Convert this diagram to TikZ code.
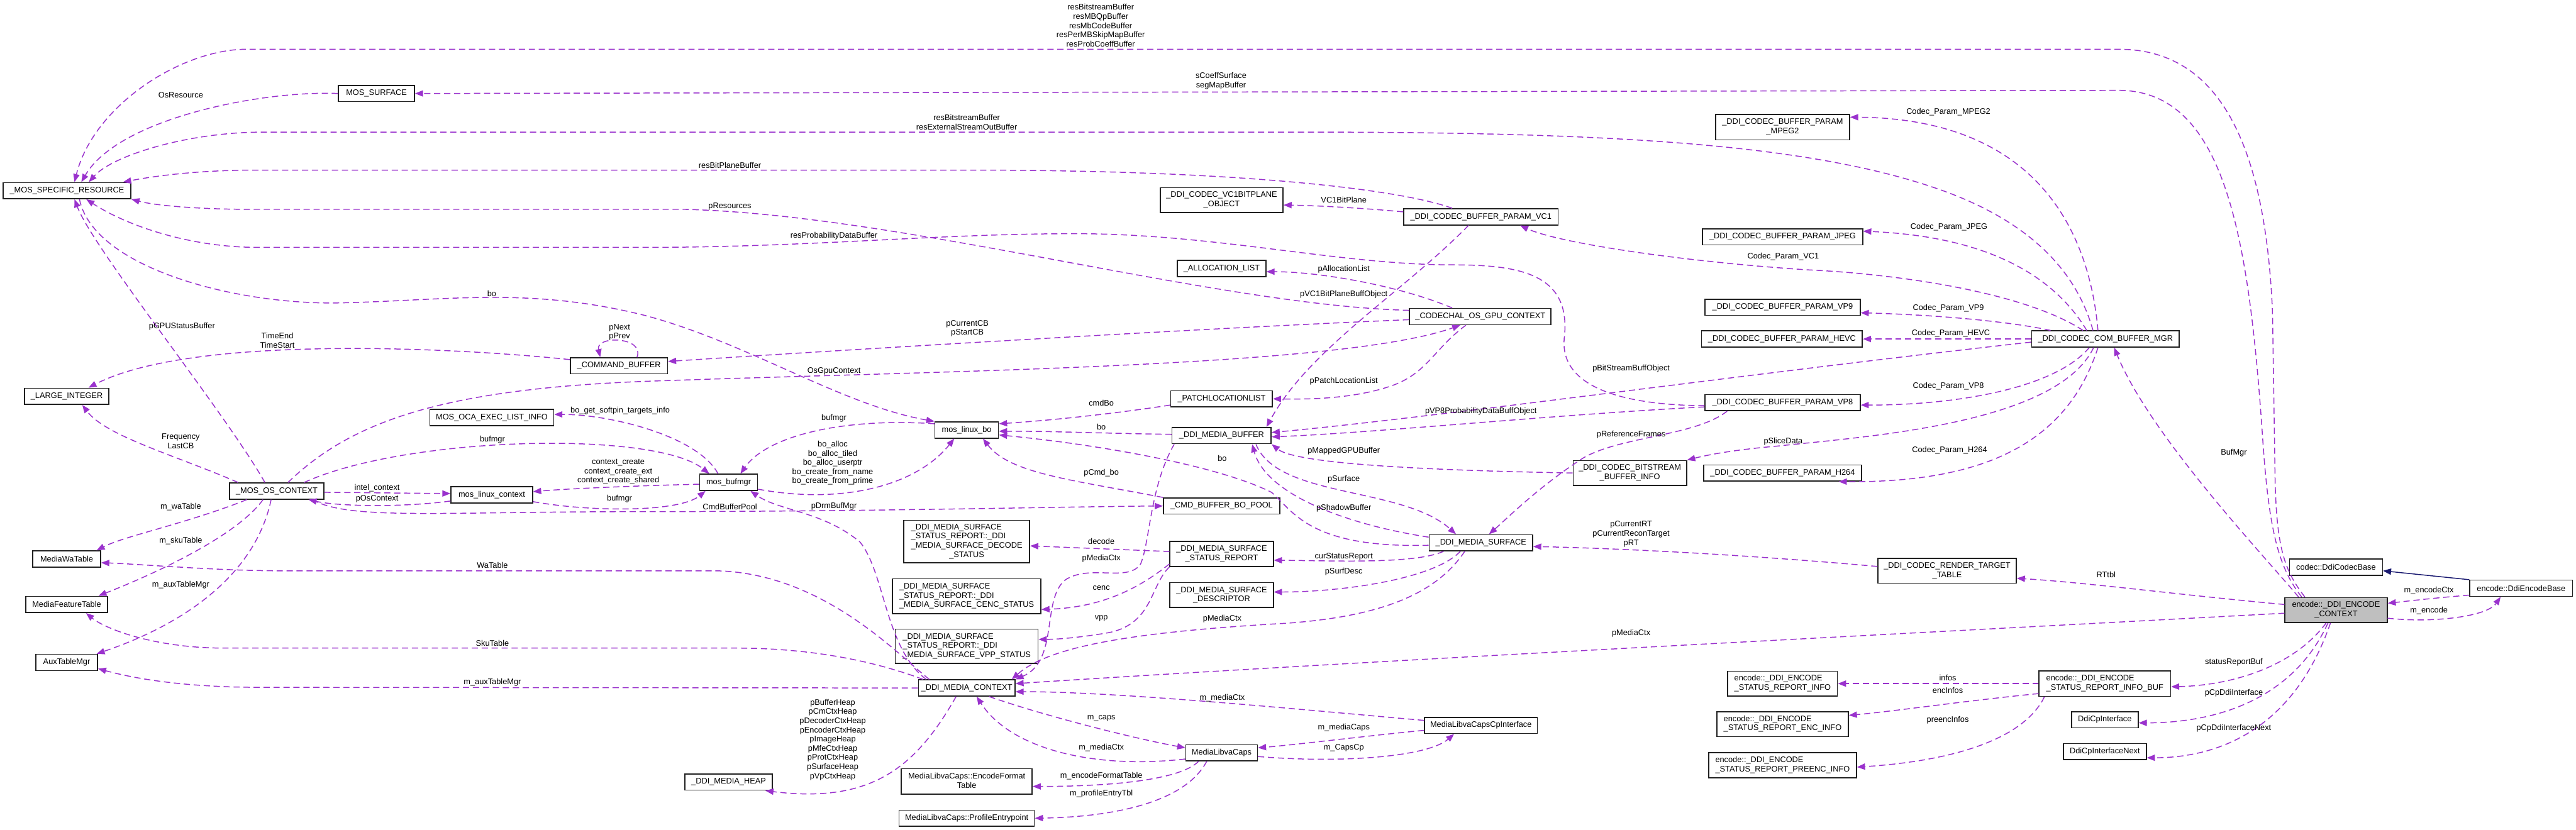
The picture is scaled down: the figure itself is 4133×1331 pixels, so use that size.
\documentclass[tikz,border=0pt]{standalone}
\usepackage{fontspec}
\setmainfont{Liberation Sans}
\usetikzlibrary{arrows.meta}
\definecolor{edgec}{HTML}{9A32CD}
\definecolor{inhc}{HTML}{191970}
\definecolor{boxfill}{HTML}{BFBFBF}
\definecolor{boxline}{HTML}{202020}
\newcommand{\LL}[2]{\begin{tabular}{@{}l@{}}#1\\\multicolumn{1}{@{}c@{}}{#2}\end{tabular}}
\newcommand{\LLL}[3]{\begin{tabular}{@{}l@{}}#1\\#2\\\multicolumn{1}{@{}c@{}}{#3}\end{tabular}}
\newcommand{\LLLL}[4]{\begin{tabular}{@{}l@{}}#1\\#2\\#3\\\multicolumn{1}{@{}c@{}}{#4}\end{tabular}}
\tikzset{
  every node/.style={font=\fontsize{12.9}{14.75}\selectfont},
  box/.style={draw=boxline, line width=1.6pt, fill=white, inner sep=0pt, minimum height=26pt},
  lbl/.style={inner sep=0pt, align=center},
  dep/.style={draw=edgec, line width=1.5pt, dash pattern=on 10pt off 6pt, -{Triangle[length=13pt,width=10pt]}},
  inh/.style={draw=inhc, line width=1.5pt, -{Triangle[length=13pt,width=10pt]}}
}
\begin{document}
\begin{tikzpicture}[x=1pt,y=-1pt]
\fill[white] (0,0) rectangle (4133,1331);
\useasboundingbox (0,0) rectangle (4133,1331);

% ---------- nodes ----------
\node[box, minimum width=205pt] (msr) at (107.5,306) {\_MOS\_SPECIFIC\_RESOURCE};
\node[box, minimum width=122pt] (mossurf) at (604,150) {MOS\_SURFACE};
\node[box, minimum width=197pt, minimum height=40pt] (vc1bp) at (1960,321) {\LL{\_DDI\_CODEC\_VC1BITPLANE}{\_OBJECT}};
\node[box, minimum width=142pt] (alloc) at (1960,431) {\_ALLOCATION\_LIST};
\node[box, minimum width=215pt, minimum height=41pt] (mpeg2) at (2860,204) {\LL{\_DDI\_CODEC\_BUFFER\_PARAM}{\_MPEG2}};
\node[box, minimum width=248pt] (vc1) at (2376,348) {\_DDI\_CODEC\_BUFFER\_PARAM\_VC1};
\node[box, minimum width=257pt] (jpeg) at (2860,380) {\_DDI\_CODEC\_BUFFER\_PARAM\_JPEG};
\node[box, minimum width=135pt] (largeint) at (107,636) {\_LARGE\_INTEGER};
\node[box, minimum width=156pt] (cmdbuf) at (993,587) {\_COMMAND\_BUFFER};
\node[box, minimum width=199pt] (oca) at (789,670) {MOS\_OCA\_EXEC\_LIST\_INFO};
\node[box, minimum width=151pt] (osctx) at (444,788) {\_MOS\_OS\_CONTEXT};
\node[box, minimum width=131pt] (linuxctx) at (789,794) {mos\_linux\_context};
\node[box, minimum width=93pt] (bufmgr) at (1169,774) {mos\_bufmgr};
\node[box, minimum width=102pt] (linuxbo) at (1551,690) {mos\_linux\_bo};
\node[box, minimum width=163pt] (patch) at (1960,640) {\_PATCHLOCATIONLIST};
\node[box, minimum width=159pt] (mbuf) at (1960,699) {\_DDI\_MEDIA\_BUFFER};
\node[box, minimum width=187pt] (cmdpool) at (1960,812) {\_CMD\_BUFFER\_BO\_POOL};
\node[box, minimum width=202pt, minimum height=68pt] (decst) at (1551,869) {\LLLL{\_DDI\_MEDIA\_SURFACE}{\_STATUS\_REPORT::\_DDI}{\_MEDIA\_SURFACE\_DECODE}{\_STATUS}};
\node[box, minimum width=166pt, minimum height=40pt] (streport) at (1960,889) {\LL{\_DDI\_MEDIA\_SURFACE}{\_STATUS\_REPORT}};
\node[box, minimum width=227pt] (gpuctx) at (2375,508) {\_CODECHAL\_OS\_GPU\_CONTEXT};
\node[box, minimum width=249pt] (vp9) at (2860,493) {\_DDI\_CODEC\_BUFFER\_PARAM\_VP9};
\node[box, minimum width=258pt] (hevc) at (2859,544) {\_DDI\_CODEC\_BUFFER\_PARAM\_HEVC};
\node[box, minimum width=249pt] (vp8) at (2860,646) {\_DDI\_CODEC\_BUFFER\_PARAM\_VP8};
\node[box, minimum width=182pt, minimum height=40pt] (bsinfo) at (2615,759) {\LL{\_DDI\_CODEC\_BITSTREAM}{\_BUFFER\_INFO}};
\node[box, minimum width=253pt] (h264) at (2860,759) {\_DDI\_CODEC\_BUFFER\_PARAM\_H264};
\node[box, minimum width=166pt] (msurf) at (2376,871) {\_DDI\_MEDIA\_SURFACE};
\node[box, minimum width=237pt] (combuf) at (3378,544) {\_DDI\_CODEC\_COM\_BUFFER\_MGR};
\node[box, minimum width=109pt] (mwa) at (107,897) {MediaWaTable};
\node[box, minimum width=131pt] (mft) at (107,970) {MediaFeatureTable};
\node[box, minimum width=99pt] (aux) at (107,1063) {AuxTableMgr};
\node[box, minimum width=238pt, minimum height=56pt] (cencst) at (1551,957) {\LLL{\_DDI\_MEDIA\_SURFACE}{\_STATUS\_REPORT::\_DDI}{\_MEDIA\_SURFACE\_CENC\_STATUS}};
\node[box, minimum width=166pt, minimum height=40pt] (desc) at (1960,955) {\LL{\_DDI\_MEDIA\_SURFACE}{\_DESCRIPTOR}};
\node[box, minimum width=229pt, minimum height=55pt] (vppst) at (1551,1037) {\LLL{\_DDI\_MEDIA\_SURFACE}{\_STATUS\_REPORT::\_DDI}{\_MEDIA\_SURFACE\_VPP\_STATUS}};
\node[box, minimum width=155pt] (mctx) at (1551,1104) {\_DDI\_MEDIA\_CONTEXT};
\node[box, minimum width=115pt] (caps) at (1960,1208) {MediaLibvaCaps};
\node[box, minimum width=140pt] (heap) at (1169,1255) {\_DDI\_MEDIA\_HEAP};
\node[box, minimum width=210pt, minimum height=41pt] (encfmt) at (1551,1254) {\LL{MediaLibvaCaps::EncodeFormat}{Table}};
\node[box, minimum width=217pt] (profile) at (1551,1313) {MediaLibvaCaps::ProfileEntrypoint};
\node[box, minimum width=222pt, minimum height=40pt] (rtt) at (3124,916) {\LL{\_DDI\_CODEC\_RENDER\_TARGET}{\_TABLE}};
\node[box, minimum width=181pt] (capscp) at (2376,1164) {MediaLibvaCapsCpInterface};
\node[box, minimum width=176pt, minimum height=40pt] (sri) at (2860,1097) {\LL{encode::\_DDI\_ENCODE}{\_STATUS\_REPORT\_INFO}};
\node[box, minimum width=211pt, minimum height=40pt] (srenc) at (2860,1162) {\LL{encode::\_DDI\_ENCODE}{\_STATUS\_REPORT\_ENC\_INFO}};
\node[box, minimum width=237pt, minimum height=40pt] (srpre) at (2860,1228) {\LL{encode::\_DDI\_ENCODE}{\_STATUS\_REPORT\_PREENC\_INFO}};
\node[box, minimum width=149pt] (codecbase) at (3748,910) {codec::DdiCodecBase};
\node[box, minimum width=165pt] (encbase) at (4045,944) {encode::DdiEncodeBase};
\node[box, fill=boxfill, minimum width=164pt, minimum height=40pt] (ectx) at (3748,979) {\LL{encode::\_DDI\_ENCODE}{\_CONTEXT}};
\node[box, minimum width=211pt, minimum height=41pt] (srbuf) at (3377,1097) {\LL{encode::\_DDI\_ENCODE}{\_STATUS\_REPORT\_INFO\_BUF}};
\node[box, minimum width=107pt] (cpif) at (3377,1155) {DdiCpInterface};
\node[box, minimum width=133pt] (cpnext) at (3377,1206) {DdiCpInterfaceNext};

% ---------- edges ----------
\draw[dep] ([xshift=-50pt]ectx.north) .. controls (3665,915) and (3652,880) .. (3650,760) -- (3646,500) .. controls (3635,250) and (3570,79) .. (3399,79) -- (396,79) .. controls (290,79) and (150,170) .. ([xshift=12pt]msr.north);
\draw[dep] ([xshift=-55pt]ectx.north) .. controls (3655,910) and (3640,850) .. (3630,700) .. controls (3608,380) and (3570,145) .. (3399,145) -- (mossurf.east);
\draw[dep] (mossurf.west) .. controls (420,145) and (190,190) .. ([xshift=23pt]msr.north);
\draw[dep] ([xshift=-20pt]combuf.north) .. controls (3330,430) and (3250,350) .. (3100,300) .. controls (2900,233) and (2600,212) .. (2100,212) -- (422,212) .. controls (300,212) and (180,250) .. ([xshift=35pt]msr.north);
\draw[dep] ([xshift=-46pt]vc1.north) .. controls (2250,305) and (2000,273) .. (1560,273) -- (409,273) .. controls (320,273) and (250,282) .. ([xshift=90pt]msr.north);
\draw[dep] ([yshift=10pt]gpuctx.west) .. controls (1950,490) and (1450,345) .. (1100,336) -- (409,336) .. controls (320,336) and (250,330) .. (msr.south east);
\draw[dep] ([yshift=-5pt]vp8.west) .. controls (2600,650) and (2500,620) .. (2510,540) .. controls (2520,440) and (2440,425) .. (2330,425) .. controls (2150,425) and (1950,375) .. (1725,375) .. controls (1500,375) and (1300,397) .. (1033,397) -- (415,397) .. controls (300,397) and (200,360) .. ([xshift=31pt]msr.south);
\draw[dep] ([xshift=-19pt]osctx.north) .. controls (360,660) and (150,400) .. ([xshift=12pt]msr.south);
\draw[dep] ([xshift=20pt]msr.south) .. controls (150,430) and (380,490) .. (547,486) .. controls (720,482) and (850,460) .. (1034,506) .. controls (1200,550) and (1350,650) .. (linuxbo.north west);
\draw[dep] ([yshift=10pt]cmdbuf.west) .. controls (700,555) and (300,540) .. ([xshift=35pt]largeint.north);
\draw[dep] ([xshift=29pt]cmdbuf.north) .. controls (1035,540) and (955,538) .. ([xshift=-30pt]cmdbuf.north);
\draw[dep] ([yshift=-5pt]gpuctx.west) .. controls (1900,528) and (1300,565) .. ([yshift=7pt]cmdbuf.east);
\draw[dep] ([xshift=18pt]osctx.north) .. controls (560,680) and (700,625) .. (1034,612) .. controls (1500,595) and (2150,590) .. ([xshift=-32pt]gpuctx.south);
\draw[dep] ([xshift=-45pt]gpuctx.north) .. controls (2250,460) and (2120,436) .. ([yshift=-5pt]alloc.east);
\draw[dep] ([xshift=-20pt]vc1.south) .. controls (2250,470) and (2100,560) .. ([xshift=72pt]mbuf.north);
\draw[dep] ([xshift=-23pt]gpuctx.south) .. controls (2300,560) and (2290,600) .. (2230,620) .. controls (2170,640) and (2100,641) .. (patch.east);
\draw[dep] ([yshift=-5pt]combuf.west) .. controls (2800,600) and (2300,670) .. ([yshift=5pt]mbuf.east);
\draw[dep] ([yshift=-7pt]vp8.west) .. controls (2500,665) and (2200,695) .. ([yshift=-2pt]mbuf.east);
\draw[dep] ([xshift=-89pt]vp8.south) .. controls (2720,700) and (2600,700) .. (2540,735) .. controls (2470,780) and (2420,830) .. ([xshift=13pt]msurf.north);
\draw[dep] ([xshift=-19pt]combuf.south) .. controls (3300,680) and (3000,700) .. (2850,716) .. controls (2780,722) and (2740,730) .. (bsinfo.north east);
\draw[dep] ([xshift=-12pt]combuf.south) .. controls (3320,700) and (3200,775) .. ([xshift=90pt]h264.south);
\draw[dep] ([xshift=-26pt]combuf.south) .. controls (3300,620) and (3150,650) .. ([yshift=-4pt]vp8.east);
\draw[dep] (combuf.west) -- (hevc.east);
\draw[dep] ([xshift=-88pt]combuf.north) .. controls (3220,515) and (3100,505) .. ([yshift=-9pt]vp9.east);
\draw[dep] ([xshift=-36pt]combuf.north) .. controls (3250,470) and (3050,440) .. (2900,433) .. controls (2700,420) and (2500,390) .. ([xshift=63pt]vc1.south);
\draw[dep] ([xshift=-30pt]combuf.north) .. controls (3300,450) and (3200,380) .. ([yshift=9pt]jpeg.east);
\draw[dep] ([xshift=-12pt]combuf.north) .. controls (3350,350) and (3250,190) .. ([yshift=16pt]mpeg2.east);
\draw[dep] ([yshift=8pt]vc1.west) .. controls (2200,335) and (2120,330) .. ([yshift=-8pt]vc1bp.east);
\draw[dep] (bsinfo.west) .. controls (2300,755) and (2080,745) .. (mbuf.south east);
\draw[dep] ([xshift=55pt]mbuf.south) .. controls (2050,800) and (2250,780) .. ([xshift=-40pt]msurf.north);
\draw[dep] ([yshift=9pt]msurf.west) .. controls (2150,840) and (2030,790) .. ([xshift=49pt]mbuf.south);
\draw[dep] ([yshift=-4pt]msurf.west) .. controls (2100,880) and (2075,820) .. (2040,790) .. controls (1950,745) and (1750,712) .. ([yshift=-8pt]linuxbo.east);
\draw[dep] ([xshift=-76pt]mbuf.south) .. controls (1845,780) and (1845,870) .. (1830,905) .. controls (1810,935) and (1750,905) .. (1710,930) .. controls (1670,960) and (1700,1060) .. (mctx.north east);
\draw[dep] ([yshift=4pt]streport.west) -- ([yshift=-7pt]decst.east);
\draw[dep] ([yshift=-16pt]streport.west) .. controls (1820,950) and (1760,975) .. ([yshift=-21pt]cencst.east);
\draw[dep] (streport.south west) .. controls (1845,940) and (1850,1000) .. (1780,1015) .. controls (1740,1022) and (1700,1026) .. ([yshift=11pt]vppst.east);
\draw[dep] ([xshift=-60pt]msurf.south) .. controls (2270,905) and (2150,900) .. ([yshift=-10pt]streport.east);
\draw[dep] ([xshift=-33pt]msurf.south) .. controls (2300,930) and (2150,950) .. ([yshift=5pt]desc.east);
\draw[dep] ([xshift=-26pt]msurf.south) .. controls (2300,960) and (2200,990) .. (2066,1000) .. controls (1800,1015) and (1680,1040) .. ([xshift=-6pt]mctx.north east);
\draw[dep] ([yshift=-5pt]ectx.west) .. controls (3000,1020) and (2200,1060) .. ([yshift=7pt]mctx.east);
\draw[dep] ([yshift=8pt]capscp.west) .. controls (2100,1140) and (1800,1110) .. ([yshift=-6pt]mctx.east);
\draw[dep] ([yshift=-8pt]capscp.west) .. controls (2200,1180) and (2080,1195) .. ([yshift=8pt]caps.east);
\draw[dep] ([yshift=-6pt]caps.east) .. controls (2150,1225) and (2290,1215) .. ([xshift=-43pt]capscp.south);
\draw[dep] ([xshift=36pt]mctx.south) .. controls (1680,1150) and (1820,1185) .. ([yshift=8pt]caps.west);
\draw[dep] ([yshift=-10pt]caps.west) .. controls (1750,1235) and (1620,1200) .. ([xshift=16pt]mctx.south);
\draw[dep] ([xshift=-17pt]mctx.south) .. controls (1470,1230) and (1400,1290) .. ([xshift=59pt]heap.south);
\draw[dep] ([xshift=-37pt]caps.south) .. controls (1890,1255) and (1760,1262) .. ([yshift=-8pt]encfmt.east);
\draw[dep] ([xshift=-24pt]caps.south) .. controls (1900,1290) and (1780,1311) .. (profile.east);
\draw[dep] ([xshift=-60pt]mctx.north) .. controls (1440,1050) and (1320,920) .. (1150,916) -- (450,916) .. controls (350,916) and (220,905) .. ([yshift=-6pt]mwa.east);
\draw[dep] ([xshift=-70pt]mctx.north) .. controls (1400,1060) and (1300,1040) .. (1180,1040) -- (360,1040) .. controls (250,1040) and (170,1010) .. ([xshift=31pt]mft.south);
\draw[dep] (mctx.west) -- (420,1103) .. controls (300,1103) and (220,1090) .. ([yshift=-10pt]aux.east);
\draw[dep] ([xshift=-48pt]osctx.south) .. controls (300,840) and (200,860) .. ([xshift=48pt]mwa.north);
\draw[dep] ([xshift=-22pt]osctx.south) .. controls (380,860) and (250,920) .. ([xshift=51pt]mft.north);
\draw[dep] ([xshift=-9pt]osctx.south) .. controls (410,920) and (300,1000) .. ([xshift=48pt]aux.north);
\draw[dep] ([xshift=-62pt]osctx.north) .. controls (280,730) and (170,700) .. ([xshift=25pt]largeint.south);
\draw[dep] ([xshift=44pt]osctx.north) .. controls (650,700) and (1050,690) .. ([xshift=-31pt]bufmgr.north);
\draw[dep] ([xshift=-17pt]bufmgr.north) .. controls (1120,700) and (980,665) .. ([yshift=5pt]oca.east);
\draw[dep] ([yshift=-2pt]osctx.east) -- ([yshift=2pt]linuxctx.west);
\draw[dep] ([yshift=-10pt]linuxctx.west) .. controls (640,815) and (540,812) .. ([xshift=51pt]osctx.south);
\draw[dep] ([yshift=-3pt]bufmgr.west) .. controls (1000,780) and (900,785) .. ([yshift=5pt]linuxctx.east);
\draw[dep] ([yshift=-11pt]linuxctx.east) .. controls (950,822) and (1090,822) .. ([xshift=-37pt]bufmgr.south);
\draw[dep] ([xshift=57pt]osctx.south) .. controls (560,835) and (700,821) .. (1034,821) .. controls (1400,821) and (1700,813) .. (cmdpool.west);
\draw[dep] ([xshift=-65pt]mctx.north) .. controls (1420,1040) and (1420,920) .. (1380,870) .. controls (1320,820) and (1250,820) .. ([xshift=35pt]bufmgr.south);
\draw[dep] ([yshift=10pt]linuxbo.west) .. controls (1350,670) and (1230,700) .. ([xshift=19pt]bufmgr.north);
\draw[dep] ([yshift=-11pt]bufmgr.east) .. controls (1350,810) and (1470,780) .. ([xshift=-20pt]linuxbo.south);
\draw[dep] ([yshift=-10pt]patch.west) .. controls (1780,665) and (1680,675) .. ([yshift=10pt]linuxbo.east);
\draw[dep] ([yshift=2pt]mbuf.west) .. controls (1750,695) and (1700,692) .. ([yshift=-2pt]linuxbo.east);
\draw[dep] (cmdpool.north west) .. controls (1720,770) and (1620,760) .. ([xshift=26pt]linuxbo.south);
\draw[dep] ([yshift=7pt]rtt.west) .. controls (2800,890) and (2600,880) .. ([yshift=-6pt]msurf.east);
\draw[dep] ([yshift=9pt]ectx.west) .. controls (3500,955) and (3350,935) .. ([yshift=-12pt]rtt.east);
\draw[dep] ([xshift=-60pt]ectx.north) .. controls (3640,900) and (3450,700) .. ([xshift=14pt]combuf.south);
\draw[dep] ([xshift=-16pt]ectx.south) .. controls (3680,1070) and (3580,1100) .. ([yshift=-5pt]srbuf.east);
\draw[dep] ([xshift=-13pt]ectx.south) .. controls (3680,1120) and (3560,1160) .. ([yshift=-5pt]cpif.east);
\draw[dep] ([xshift=-9pt]ectx.south) .. controls (3680,1170) and (3560,1216) .. ([yshift=-10pt]cpnext.east);
\draw[dep] ([yshift=-11pt]encbase.west) .. controls (3900,960) and (3860,965) .. ([yshift=11pt]ectx.east);
\draw[dep] ([yshift=-13pt]ectx.east) .. controls (3900,1000) and (3990,990) .. ([xshift=-33pt]encbase.south);
\draw[inh] (encbase.north west) -- ([yshift=-6pt]codecbase.east);
\draw[dep] (srbuf.west) -- (sri.east);
\draw[dep] ([yshift=-16pt]srbuf.west) .. controls (3150,1125) and (3050,1140) .. ([yshift=14pt]srenc.east);
\draw[dep] ([xshift=-97pt]srbuf.south) .. controls (3250,1180) and (3150,1220) .. ([yshift=-3pt]srpre.east);

% ---------- labels ----------
\node[lbl] (l1) at (1766,41) {resBitstreamBuffer\\resMBQpBuffer\\resMbCodeBuffer\\resPerMBSkipMapBuffer\\resProbCoeffBuffer};
\node[lbl] (l2) at (1959,130) {sCoeffSurface\\segMapBuffer};
\node[lbl] (l3) at (290,152) {OsResource};
\node[lbl] (l4) at (1551,196) {resBitstreamBuffer\\resExternalStreamOutBuffer};
\node[lbl] (l5) at (3126,180) {Codec\_Param\_MPEG2};
\node[lbl] (l6) at (1171,265) {resBitPlaneBuffer};
\node[lbl] (l7) at (2156,321) {VC1BitPlane};
\node[lbl] (l8) at (1171,331) {pResources};
\node[lbl] (l9) at (3127,364) {Codec\_Param\_JPEG};
\node[lbl] (l10) at (1338,379) {resProbabilityDataBuffer};
\node[lbl] (l11) at (2861,412) {Codec\_Param\_VC1};
\node[lbl] (l12) at (2156,432) {pAllocationList};
\node[lbl] (l13) at (789,471) {bo};
\node[lbl] (l14) at (2156,472) {pVC1BitPlaneBuffObject};
\node[lbl] (l15) at (3126,495) {Codec\_Param\_VP9};
\node[lbl] (l16) at (292,524) {pGPUStatusBuffer};
\node[lbl] (l17) at (1552,527) {pCurrentCB\\pStartCB};
\node[lbl] (l18) at (994,533) {pNext\\pPrev};
\node[lbl] (l19) at (445,546) {TimeEnd\\TimeStart};
\node[lbl] (l20) at (3130,535) {Codec\_Param\_HEVC};
\node[lbl] (l21) at (2617,591) {pBitStreamBuffObject};
\node[lbl] (l22) at (1338,596) {OsGpuContext};
\node[lbl] (l23) at (2156,612) {pPatchLocationList};
\node[lbl] (l24) at (3126,620) {Codec\_Param\_VP8};
\node[lbl] (l25) at (1767,647) {cmdBo};
\node[lbl] (l26) at (995,659) {bo\_get\_softpin\_targets\_info};
\node[lbl] (l27) at (2376,660) {pVP8ProbabilityDataBuffObject};
\node[lbl] (l28) at (1338,671) {bufmgr};
\node[lbl] (l29) at (1767,685) {bo};
\node[lbl] (l30) at (2617,697) {pReferenceFrames};
\node[lbl] (l31) at (790,705) {bufmgr};
\node[lbl] (l32) at (290,708) {Frequency\\LastCB};
\node[lbl] (l33) at (2861,709) {pSliceData};
\node[lbl] (l34) at (3128,723) {Codec\_Param\_H264};
\node[lbl] (l35) at (2156,724) {pMappedGPUBuffer};
\node[lbl] (l36) at (3584,727) {BufMgr};
\node[lbl] (l37) at (1961,736) {bo};
\node[lbl] (l38) at (1336,743) {bo\_alloc\\bo\_alloc\_tiled\\bo\_alloc\_userptr\\bo\_create\_from\_name\\bo\_create\_from\_prime};
\node[lbl] (l39) at (992,757) {context\_create\\context\_create\_ext\\context\_create\_shared};
\node[lbl] (l40) at (1767,759) {pCmd\_bo};
\node[lbl] (l41) at (2156,769) {pSurface};
\node[lbl] (l42) at (605,783) {intel\_context};
\node[lbl] (l43) at (994,800) {bufmgr};
\node[lbl] (l44) at (605,801) {pOsContext};
\node[lbl] (l45) at (1171,813) {CmdBufferPool};
\node[lbl] (l46) at (1338,812) {pDrmBufMgr};
\node[lbl] (l47) at (290,813) {m\_waTable};
\node[lbl] (l48) at (2156,815) {pShadowBuffer};
\node[lbl] (l49) at (2617,857) {pCurrentRT\\pCurrentReconTarget\\pRT};
\node[lbl] (l50) at (290,868) {m\_skuTable};
\node[lbl] (l51) at (1767,869) {decode};
\node[lbl] (l52) at (2156,893) {curStatusReport};
\node[lbl] (l53) at (1767,896) {pMediaCtx};
\node[lbl] (l54) at (790,907) {WaTable};
\node[lbl] (l55) at (2156,917) {pSurfDesc};
\node[lbl] (l56) at (3379,922) {RTtbl};
\node[lbl] (l57) at (290,939) {m\_auxTableMgr};
\node[lbl] (l58) at (1767,944) {cenc};
\node[lbl] (l59) at (3897,948) {m\_encodeCtx};
\node[lbl] (l60) at (3897,980) {m\_encode};
\node[lbl] (l61) at (1767,992) {vpp};
\node[lbl] (l62) at (1961,993) {pMediaCtx};
\node[lbl] (l63) at (2617,1016) {pMediaCtx};
\node[lbl] (l64) at (790,1032) {SkuTable};
\node[lbl] (l65) at (3584,1063) {statusReportBuf};
\node[lbl] (l66) at (3125,1088) {infos};
\node[lbl] (l67) at (790,1095) {m\_auxTableMgr};
\node[lbl] (l68) at (3125,1108) {encInfos};
\node[lbl] (l69) at (3584,1112) {pCpDdiInterface};
\node[lbl] (l70) at (1961,1120) {m\_mediaCtx};
\node[lbl] (l71) at (1767,1153) {m\_caps};
\node[lbl] (l72) at (3125,1156) {preencInfos};
\node[lbl] (l73) at (2156,1168) {m\_mediaCaps};
\node[lbl] (l74) at (3584,1169) {pCpDdiInterfaceNext};
\node[lbl] (l75) at (1336,1187) {pBufferHeap\\pCmCtxHeap\\pDecoderCtxHeap\\pEncoderCtxHeap\\pImageHeap\\pMfeCtxHeap\\pProtCtxHeap\\pSurfaceHeap\\pVpCtxHeap};
\node[lbl] (l76) at (1767,1200) {m\_mediaCtx};
\node[lbl] (l77) at (2156,1200) {m\_CapsCp};
\node[lbl] (l78) at (1767,1245) {m\_encodeFormatTable};
\node[lbl] (l79) at (1767,1274) {m\_profileEntryTbl};
\end{tikzpicture}
\end{document}
